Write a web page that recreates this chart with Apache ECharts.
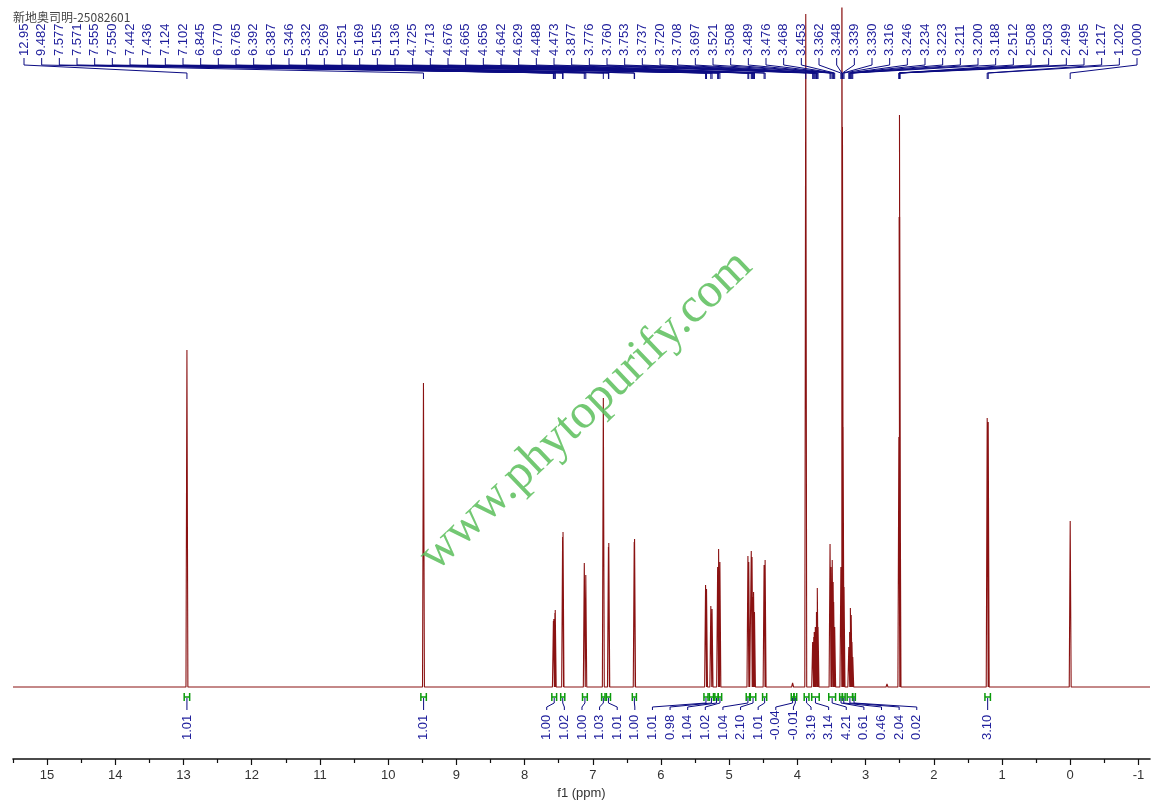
<!DOCTYPE html>
<html><head><meta charset="utf-8">
<script src="https://cdn.jsdelivr.net/npm/echarts@6/dist/echarts.min.js"></script>
<style>html,body{margin:0;padding:0;background:#fff}#c{width:1157px;height:809px}</style>
</head><body><div id="c"></div>
<script>
const chartTitle = '新地奥司明-25082601';
const watermark = 'www.phytopurify.com';
const axisName = 'f1 (ppm)';

// x-axis ticks (ppm)
const tickValues = [15,14,13,12,11,10,9,8,7,6,5,4,3,2,1,0,-1];
const minorTickValues = [15.5,14.5,13.5,12.5,11.5,10.5,9.5,8.5,7.5,6.5,5.5,4.5,3.5,2.5,1.5,0.5,-0.5];

// labelled peaks: chemical shift (ppm) and intensity
const peakLabels = ['12.95','9.482','7.577','7.571','7.555','7.550','7.442','7.436','7.124','7.102','6.845','6.770','6.765','6.392','6.387','5.346','5.332','5.269','5.251','5.169','5.155','5.136','4.725','4.713','4.676','4.665','4.656','4.642','4.629','4.488','4.473','3.877','3.776','3.760','3.753','3.737','3.720','3.708','3.697','3.521','3.508','3.489','3.476','3.468','3.453','3.362','3.348','3.339','3.330','3.316','3.246','3.234','3.223','3.211','3.200','3.188','2.512','2.508','2.503','2.499','2.495','1.217','1.202','0.000'];
const peakPpm = [12.95,9.482,7.577,7.571,7.555,7.550,7.442,7.436,7.124,7.102,6.845,6.770,6.765,6.392,6.387,5.346,5.332,5.269,5.251,5.169,5.155,5.136,4.725,4.713,4.676,4.665,4.656,4.642,4.629,4.488,4.473,3.877,3.776,3.760,3.753,3.737,3.720,3.708,3.697,3.521,3.508,3.489,3.476,3.468,3.453,3.362,3.348,3.339,3.330,3.316,3.246,3.234,3.223,3.211,3.200,3.188,2.512,2.508,2.503,2.499,2.495,1.217,1.202,0.000];
const peakHeight = [337,304,66,68,74,77,150,155,124,112,289,140,144,145,148,102,98,81,78,120,138,125,131,125,136,130,90,95,75,122,127,673,45,50,55,60,75,99,60,143,120,127,105,85,60,120,800,560,260,100,40,55,79,72,45,30,250,470,572,470,250,269,265,166];
// small unlabelled bumps
const extraPpm = [4.07, 2.686];
const extraHeight = [4, 3];

// integrals
const integralFrom = [12.99,9.52,7.60,7.47,7.15,6.87,6.80,6.42,5.37,5.29,5.21,5.16,4.75,4.69,4.51,4.09,4.05,3.90,3.79,3.54,3.38,3.34,3.27,3.19,1.25];
const integralTo   = [12.91,9.44,7.53,7.41,7.08,6.82,6.74,6.36,5.31,5.23,5.16,5.11,4.70,4.61,4.45,4.05,4.01,3.83,3.68,3.44,3.34,3.30,3.19,3.15,1.17];
const integralLabels = ['1.01','1.01','1.00','1.02','1.00','1.03','1.01','1.00','1.01','0.98','1.04','1.02','1.04','2.10','1.01','-0.04','-0.01','3.19','3.14','4.21','0.61','0.46','2.04','0.02','3.10'];

// ---------- build spectrum (stick peaks) ----------
const allPeaks = peakPpm.map((p,i)=>[p, peakHeight[i]])
  .concat(extraPpm.map((p,i)=>[p, extraHeight[i]]))
  .sort((a,b)=>b[0]-a[0]);
const W = 0.014;
const spectrum = [[15.5, 0]];
allPeaks.forEach(([p,h]) => { spectrum.push([p+W,0],[p,h],[p-W,0]); });
spectrum.push([-1.17, 0]);

// label spreading (layout only)
function spread(desired, gap, lo, hi){
  const clusters = desired.map(d=>({n:1, sum:d}));
  const place = c => { let s = c.sum/c.n - (c.n-1)*gap/2; s = Math.max(lo, Math.min(s, hi-(c.n-1)*gap)); return s; };
  let changed = true;
  while(changed){
    changed = false;
    for(let i=0;i<clusters.length-1;i++){
      const a=clusters[i], b=clusters[i+1];
      if(place(a)+a.n*gap > place(b)+1e-6){ a.n+=b.n; a.sum+=b.sum; clusters.splice(i+1,1); changed=true; break; }
    }
  }
  const out=[]; clusters.forEach(c=>{const s=place(c); for(let k=0;k<c.n;k++) out.push(s+k*gap);});
  return out;
}

const LBL_FONT = '13px "Liberation Sans", Arial, sans-serif';
const LBL_COLOR = '#1e1e9c';
const LINK_COLOR = '#0b0b82';

let topX = null;
function renderTop(params, api){
  if(!topX){
    const d = peakPpm.map(p=>api.coord([p,0])[0]);
    topX = spread(d, (1137-24)/63, 24, 1137);
  }
  const i = params.dataIndex;
  const px = api.coord([api.value(0),0])[0];
  const lx = topX[i];
  return {type:'group', children:[
    {type:'polyline', shape:{points:[[lx,58],[lx,65],[px,73],[px,79]]}, style:{stroke:LINK_COLOR, lineWidth:1, fill:null}},
    {type:'text', x:lx, y:56, rotation:Math.PI/2,
     style:{text:peakLabels[i], x:0, y:0, textAlign:'left', textVerticalAlign:'middle', verticalAlign:'middle', font:LBL_FONT, fill:LBL_COLOR}}
  ]};
}

let botX = null;
function renderBottom(params, api){
  const centers = integralFrom.map((f,i)=>(f+integralTo[i])/2);
  if(!botX){
    const d = centers.map(p=>api.coord([p,0])[0]);
    botX = spread(d, 17.62, 13, 1150);
  }
  const i = params.dataIndex;
  const x1 = api.coord([integralFrom[i],0])[0];
  const x2 = api.coord([integralTo[i],0])[0];
  const xc = (x1+x2)/2;
  const lx = botX[i];
  const g = '#0a9a0a';
  return {type:'group', children:[
    {type:'line', shape:{x1:x1,y1:693,x2:x1,y2:701}, style:{stroke:g, lineWidth:1.5}},
    {type:'line', shape:{x1:x2,y1:693,x2:x2,y2:701}, style:{stroke:g, lineWidth:1.5}},
    {type:'line', shape:{x1:x1,y1:697,x2:x2,y2:697}, style:{stroke:g, lineWidth:1.5}},
    {type:'polyline', shape:{points:[[xc,698],[xc,703],[lx,707],[lx,710]]}, style:{stroke:LINK_COLOR, lineWidth:1, fill:null}},
    {type:'text', x:lx, y:740, rotation:Math.PI/2,
     style:{text:integralLabels[i], x:0, y:0, textAlign:'left', textVerticalAlign:'middle', verticalAlign:'middle', font:LBL_FONT, fill:LBL_COLOR}}
  ]};
}

const chart = echarts.init(document.getElementById('c'), null, {renderer:'canvas'});
chart.setOption({
  animation:false,
  backgroundColor:'#fff',
  grid:{left:13, right:7, top:8, bottom:50},
  xAxis:[{
    type:'value', inverse:true, min:-1.17, max:15.5, position:'bottom',
    axisLine:{show:true, onZero:false, lineStyle:{color:'#111', width:1.6}},
    axisTick:{show:true, customValues:tickValues, length:6, lineStyle:{color:'#111', width:1.2}},
    axisLabel:{show:true, customValues:tickValues, margin:10, fontSize:13, color:'#333', fontFamily:'"Liberation Sans", Arial, sans-serif'},
    splitLine:{show:false},
    name:axisName, nameLocation:'middle', nameGap:27,
    nameTextStyle:{fontSize:13, color:'#333', fontFamily:'"Liberation Sans", Arial, sans-serif'}
  },{
    type:'value', inverse:true, min:-1.17, max:15.5, position:'bottom', offset:0,
    axisLine:{show:false, onZero:false},
    axisTick:{show:true, customValues:minorTickValues, length:4, lineStyle:{color:'#111', width:1.2}},
    axisLabel:{show:false}, splitLine:{show:false}
  }],
  yAxis:{type:'value', min:-72, max:679, show:false},
  graphic:[
    {type:'text', left:13, top:11, z:1,
     style:{text:chartTitle, font:'12px "Noto Sans CJK SC", sans-serif', fill:'#444'}},
    {type:'text', x:586, y:411, rotation:0.763, z:50,
     style:{text:watermark, x:0, y:0, textAlign:'center', textVerticalAlign:'middle', verticalAlign:'middle',
            font:'49px "Liberation Serif", "DejaVu Serif", serif', fill:'rgba(90,190,90,0.85)'}}
  ],
  series:[
    {type:'line', xAxisIndex:0, data:spectrum, showSymbol:false, symbol:'none', clip:true,
     lineStyle:{color:'#8a1212', width:1.1}, z:3},
    {type:'custom', xAxisIndex:0, data:peakPpm.map(p=>[p,0]), renderItem:renderTop, clip:false, z:4, silent:true},
    {type:'custom', xAxisIndex:0, data:integralFrom.map((f,i)=>[(f+integralTo[i])/2,0]), renderItem:renderBottom, clip:false, z:4, silent:true}
  ]
});
</script>
</body></html>
